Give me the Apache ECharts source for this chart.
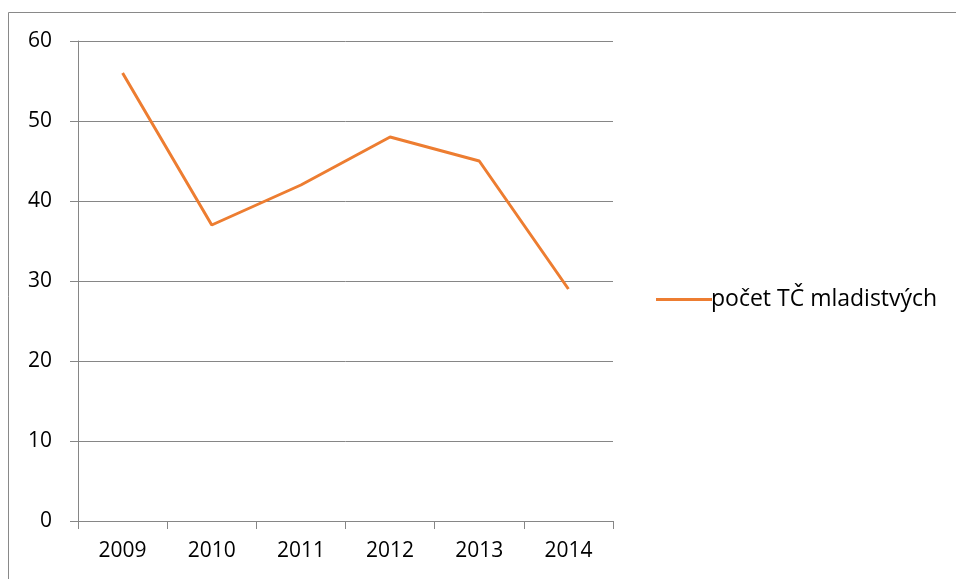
<!DOCTYPE html>
<html><head><meta charset="utf-8">
<script src="https://cdn.jsdelivr.net/npm/echarts@6/dist/echarts.min.js"></script>
<style>html,body{margin:0;padding:0;background:#fff}#c{width:956px;height:579px}</style>
</head><body><div id="c"></div>
<script>
const categories = ['2009','2010','2011','2012','2013','2014'];
const seriesName = 'počet TČ mladistvých';
const values = [56, 37, 42, 48, 45, 29];
const yTicks = {min: 0, max: 60, interval: 10};

const chart = echarts.init(document.getElementById('c'), null, {renderer: 'canvas'});
const font = 'Open Sans';
chart.setOption({
  animation: false,
  graphic: [{type: 'rect', shape: {x: 8.5, y: 12.5, width: 960, height: 600}, style: {fill: 'none', stroke: '#898989', lineWidth: 1}, silent: true}],
  grid: {left: 78, top: 41, width: 535, height: 480, containLabel: false},
  legend: {
    data: [seriesName], left: 651, top: 283, orient: 'vertical',
    itemWidth: 56, itemHeight: 3, itemGap: 4,
    icon: 'rect',
    textStyle: {fontFamily: font, fontSize: 23, color: '#000', padding: [0,0,0,-6]}
  },
  xAxis: {
    type: 'category', data: categories, boundaryGap: true,
    axisLine: {lineStyle: {color: '#868686', width: 1}},
    axisTick: {show: true, length: 8, lineStyle: {color: '#868686'}},
    axisLabel: {fontFamily: font, fontSize: 21, color: '#000', margin: 20},
    splitLine: {show: false}
  },
  yAxis: {
    type: 'value', min: yTicks.min, max: yTicks.max, interval: yTicks.interval,
    axisLine: {show: true, lineStyle: {color: '#868686', width: 1}},
    axisTick: {show: true, length: 8, lineStyle: {color: '#868686'}},
    axisLabel: {fontFamily: font, fontSize: 21, color: '#000', margin: 26},
    splitLine: {show: true, lineStyle: {color: '#868686', width: 1}}
  },
  series: [{
    name: seriesName, type: 'line', data: values,
    symbol: 'none', lineStyle: {color: '#ED7D31', width: 3}, itemStyle: {color: '#ED7D31'}
  }]
});
</script></body></html>
